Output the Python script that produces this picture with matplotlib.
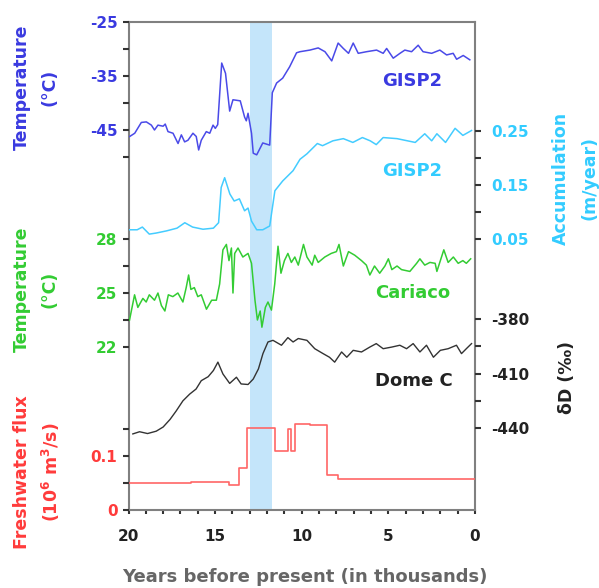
import numpy as np
import matplotlib
matplotlib.use("Agg")
import matplotlib.pyplot as plt

plt.rcParams['font.family'] = ['DejaVu Sans']
plt.rcParams['font.weight'] = 'bold'

# ---- data (years before present, thousands) ----
gisp_t_yr = [19.93, 19.64, 19.26, 18.97, 18.68, 18.5, 18.3, 18.0, 17.88, 17.72,
             17.43, 17.14, 16.95, 16.76, 16.57, 16.28, 16.09, 15.95, 15.8, 15.51,
             15.31, 15.12, 14.99, 14.85, 14.62, 14.4, 14.16, 13.97, 13.55, 13.3,
             13.2, 13.1, 12.9, 12.8, 12.6, 12.25, 11.85, 11.7, 11.45, 11.1,
             10.7, 10.3, 10.1, 9.53, 9.05, 8.66, 8.27, 7.9, 7.6, 7.3,
             7.03, 6.74, 6.26, 5.68, 5.3, 5.1, 4.72, 4.33, 4.05, 3.66,
             3.28, 3.0, 2.5, 2.03, 1.64, 1.26, 1.06, 0.68, 0.3]
gisp_t = [-46.2, -45.6, -43.6, -43.5, -44.1, -45.0, -44.1, -44.3, -43.9, -45.3,
          -45.6, -47.5, -45.9, -47.2, -46.9, -45.6, -46.2, -48.7, -46.9, -45.3,
          -45.6, -44.1, -44.7, -44.0, -32.6, -34.5, -41.5, -39.4, -39.6, -42.6,
          -43.3, -41.9, -45.6, -49.3, -49.6, -47.4, -47.8, -38.1, -36.3, -35.4,
          -33.3, -30.7, -30.5, -30.2, -29.8, -30.5, -32.2, -28.9, -29.9, -30.8,
          -28.9, -30.8, -30.5, -30.2, -30.8, -29.9, -31.7, -30.8, -30.2, -30.5,
          -29.3, -30.5, -30.8, -30.2, -31.1, -30.8, -31.9, -31.2, -32.0]

acc_yr = [19.95, 19.5, 19.2, 18.8, 18.4, 17.8, 17.2, 16.75, 16.3, 15.7,
          15.1, 14.8, 14.65, 14.45, 14.15, 13.9, 13.6, 13.3, 13.1, 12.9,
          12.6, 12.25, 11.85, 11.55, 11.1, 10.5, 10.1, 9.7, 9.1, 8.8,
          8.2, 7.6, 7.05, 6.5, 6.05, 5.7, 5.3, 4.5, 3.9, 3.45,
          2.9, 2.5, 2.2, 1.7, 1.15, 0.7, 0.2]
acc = [0.067, 0.067, 0.072, 0.059, 0.061, 0.065, 0.070, 0.080, 0.072, 0.068,
       0.070, 0.080, 0.145, 0.163, 0.133, 0.120, 0.124, 0.102, 0.107, 0.083,
       0.067, 0.067, 0.074, 0.139, 0.157, 0.176, 0.197, 0.207, 0.226, 0.222,
       0.231, 0.235, 0.228, 0.237, 0.231, 0.224, 0.237, 0.235, 0.231, 0.228,
       0.244, 0.231, 0.244, 0.228, 0.254, 0.241, 0.250]

car_yr = [19.94, 19.65, 19.46, 19.17, 18.98, 18.8, 18.5, 18.3, 18.1, 17.9,
          17.7, 17.44, 17.15, 16.86, 16.67, 16.53, 16.4, 16.2, 16.0, 15.8,
          15.5, 15.2, 14.93, 14.74, 14.55, 14.35, 14.2, 14.06, 13.97, 13.87,
          13.68, 13.4, 13.1, 12.9, 12.7, 12.56, 12.4, 12.3, 12.1, 11.95,
          11.75, 11.56, 11.37, 11.2, 11.0, 10.8, 10.6, 10.4, 10.2, 9.9,
          9.7, 9.4, 9.25, 9.05, 8.67, 8.3, 8.0, 7.85, 7.6, 7.3,
          6.94, 6.55, 6.27, 6.07, 5.8, 5.5, 5.2, 5.0, 4.8, 4.5,
          4.24, 3.76, 3.37, 3.18, 2.9, 2.6, 2.3, 2.2, 2.0, 1.8,
          1.55, 1.25, 0.97, 0.7, 0.5, 0.25]
car = [23.5, 24.9, 24.2, 24.7, 24.5, 24.9, 24.6, 25.0, 24.3, 24.0,
       24.9, 24.8, 25.0, 24.5, 25.3, 26.0, 25.2, 25.3, 24.8, 24.9,
       24.1, 24.6, 24.6, 25.5, 27.4, 27.7, 26.8, 27.5, 25.0, 27.2,
       27.5, 27.0, 27.2, 26.65, 24.6, 23.5, 24.0, 23.1, 24.2, 24.5,
       24.05, 25.5, 27.6, 26.1, 26.8, 27.2, 26.7, 27.0, 26.55, 27.7,
       27.0, 26.55, 27.1, 26.7, 27.0, 27.2, 27.3, 27.7, 26.5, 27.3,
       27.1, 26.8, 26.55, 26.0, 26.5, 26.1, 26.5, 26.9, 26.3, 26.5,
       26.3, 26.2, 26.65, 26.9, 26.55, 26.7, 26.65, 26.2, 26.8, 27.4,
       26.7, 27.0, 26.65, 26.8, 26.65, 26.9]

dome_yr = [19.75, 19.36, 18.9, 18.4, 18.0, 17.6, 17.25, 16.86, 16.47, 16.1,
           15.8, 15.4, 15.1, 14.84, 14.55, 14.16, 13.77, 13.5, 13.1, 12.8,
           12.5, 12.24, 11.95, 11.66, 11.17, 10.8, 10.5, 10.2, 9.7, 9.25,
           8.77, 8.4, 8.1, 7.7, 7.4, 7.03, 6.55, 6.07, 5.7, 5.3,
           4.8, 4.34, 3.95, 3.57, 3.18, 2.8, 2.4, 2.0, 1.55, 1.07,
           0.78, 0.5, 0.2]
dome = [-443.2, -442, -443, -441.7, -439.4, -435.2, -430.6, -425, -421.3, -418.5,
        -413.9, -411.7, -408.3, -403.7, -410.2, -415.4, -412, -415.7, -416, -413,
        -407.4, -399, -392.6, -391.7, -394.4, -390.2, -392.6, -390.7, -391.7, -396.3,
        -399, -401, -403.7, -398.1, -401, -397.2, -398.1, -395.4, -393.5, -396.3,
        -395.4, -394.4, -396.3, -393.5, -398.1, -394.4, -401, -397.2, -396.3, -394.4,
        -399, -396.3, -393.5]

flux_yr = [20.0, 16.4, 14.2, 13.64, 13.14, 11.56, 10.79, 10.64, 10.40, 9.54, 8.54, 7.9, 0.0]
flux = [0.049, 0.051, 0.046, 0.077, 0.151, 0.108, 0.150, 0.108, 0.159, 0.156, 0.063, 0.057, 0.057]

yd_start, yd_end = 13.0, 11.7   # Younger Dryas band

# ---- colours ----
c_blue = '#3a3ae0'
c_cyan = '#33ccff'
c_green = '#33cc33'
c_red = '#ff3b3b'
c_black = '#222222'

W, H = 599, 588
fig = plt.figure(figsize=(W / 100, H / 100), dpi=100)
x0, x1, y0, y1 = 128.5, 475, 22, 509.5
ax = fig.add_axes([x0 / W, 1 - y1 / H, (x1 - x0) / W, (y1 - y0) / H])
ax.set_xlim(20, 0)
ax.set_ylim(0, 1)
ax.set_yticks([])
ax.axvspan(yd_start, yd_end, color='#c4e5fa', lw=0, zorder=0)
for s in ax.spines.values():
    s.set_color('#808080')
    s.set_linewidth(1.5)
ax.set_xticks([20, 15, 10, 5, 0])
ax.set_xticks(np.arange(0, 21, 1), minor=True)
ax.tick_params(axis='x', which='both', direction='out', length=3, width=1.5,
               color='#333333', pad=11, labelsize=11, labelcolor='#222222')


def twin(side, lim, major, minor, color, labels):
    a = ax.twinx()
    for s in a.spines.values():
        s.set_visible(False)
    if side == 'left':
        a.yaxis.tick_left()
        pad = 3.5
    else:
        a.yaxis.tick_right()
        pad = 7
    a.set_ylim(*lim)
    a.set_yticks(major, labels)
    a.set_yticks(minor, minor=True)
    a.tick_params(axis='y', which='both', direction='out', length=4.5, width=1.5,
                  color='#333333', pad=pad, labelsize=11, labelcolor=color)
    return a


a_gt = twin('left', (-115.28, -25), [-25, -35, -45], [-30, -40, -50], c_blue,
            ['-25', '-35', '-45'])
a_car = twin('left', (12.97, 40.06), [28, 25, 22], [26.5, 23.5], c_green,
             ['28', '25', '22'])
a_fl = twin('left', (0, 0.9028), [0, 0.1], [0.05, 0.15], c_red, ['0', '0.1'])
a_acc = twin('right', (-0.4486, 0.45), [0.25, 0.15, 0.05], [0.2, 0.1], c_cyan,
             ['0.25', '0.15', '0.05'])
a_dd = twin('right', (-484.8, -216.5), [-380, -410, -440], [-395, -425], c_black,
            ['-380', '-410', '-440'])

a_gt.plot(gisp_t_yr, gisp_t, color='#4a4ae8', lw=1.1)
a_acc.plot(acc_yr, acc, color='#44ccff', lw=1.1)
a_car.plot(car_yr, car, color='#33cc33', lw=1.1)
a_dd.plot(dome_yr, dome, color='#333333', lw=1.0)
a_fl.step(flux_yr, flux, where='post', color='#ff6666', lw=1.2)

a_gt.text(3.6, -35.9, 'GISP2', color=c_blue, fontsize=13, ha='center', va='center')
a_acc.text(3.6, 0.176, 'GISP2', color=c_cyan, fontsize=13, ha='center', va='center')
a_car.text(3.6, 25.0, 'Cariaco', color=c_green, fontsize=13, ha='center', va='center')
a_dd.text(3.5, -413.9, 'Dome C', color=c_black, fontsize=13, ha='center', va='center')


def side_label(x_px, y_px, text, color):
    fig.text(x_px / W, 1 - y_px / H, text, color=color, fontsize=12.5,
             rotation=90, ha='center', va='center')


side_label(22, 87, 'Temperature', c_blue)
side_label(49, 87, '(°C)', c_blue)
side_label(22, 289, 'Temperature', c_green)
side_label(49, 289, '(°C)', c_green)
side_label(22, 472, 'Freshwater flux', c_red)
side_label(51, 472, '(10$^{\\mathbf{6}}$ m$^{\\mathbf{3}}$/s)', c_red)
side_label(561, 178, 'Accumulation', c_cyan)
side_label(590, 178, '(m/year)', c_cyan)
side_label(567, 377, 'δD (‰)', c_black)

fig.text(305 / W, 1 - 577 / H, 'Years before present (in thousands)',
         color='#666666', fontsize=13, ha='center', va='center')

fig.savefig('out.png', dpi=100)
